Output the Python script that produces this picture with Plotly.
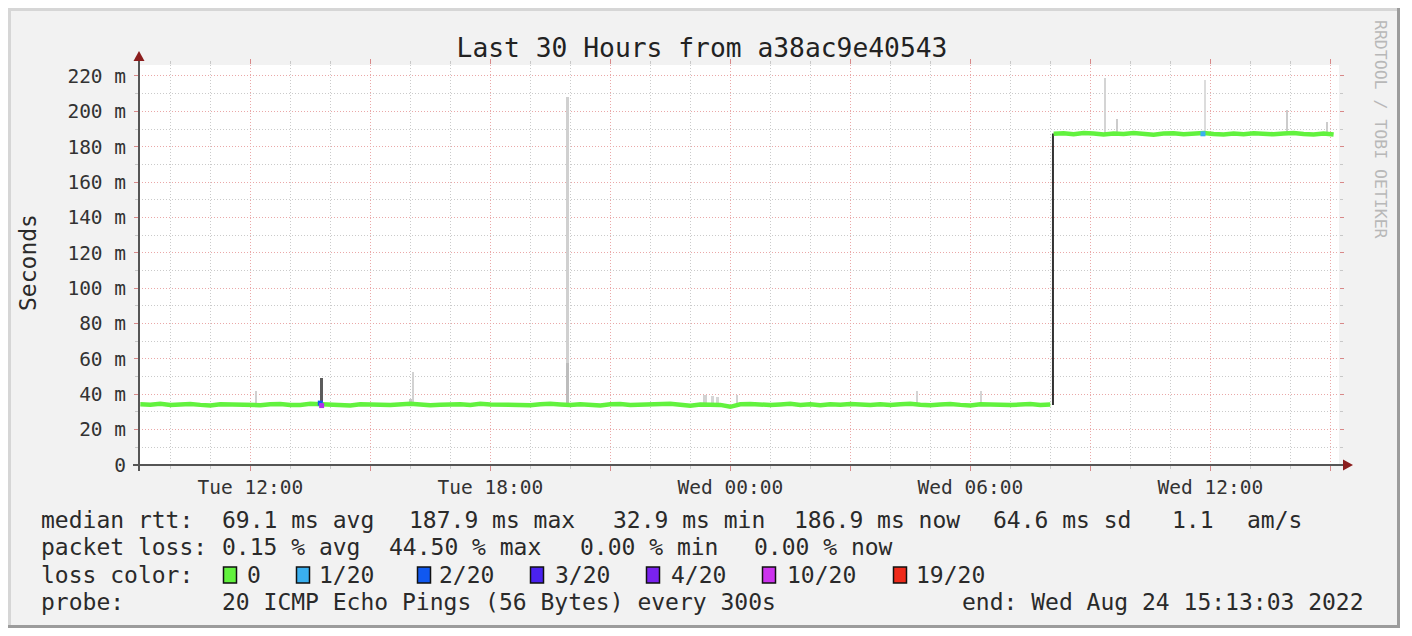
import plotly.graph_objects as go
import pandas as pd

# ---------------- data ----------------
x_start = "2022-08-23 09:13:03"
x_end = "2022-08-24 15:13:03"

# median rtt (ms), 15-minute samples, before the route change
median_a_start = "2022-08-23 09:15"
median_a = [34.3, 34.1, 34.6, 33.9, 34.2, 34.5, 34.0, 33.7, 34.4, 34.2,
            34.6, 34.1, 33.8, 34.3, 34.5, 34.0, 33.9, 34.6, 34.2, 34.4,
            34.0, 33.6, 34.3, 34.5, 34.1, 33.9, 34.4, 34.7, 34.2, 33.8,
            34.1, 34.5, 34.3, 33.9, 34.6, 34.2, 34.0, 34.4, 34.1, 33.8,
            34.3, 34.6, 34.2, 33.9, 34.4, 34.1, 33.7, 34.3, 34.5, 34.0,
            34.2, 33.9, 34.4, 34.6, 34.1, 33.5, 34.2, 34.4, 34.0, 32.9,
            34.3, 34.5, 34.1, 33.9, 34.2, 34.6, 34.0, 34.3, 33.8, 34.4,
            34.1, 34.5, 34.2, 33.9, 34.4, 34.0, 34.3, 34.6, 34.1, 33.8,
            34.2, 34.5, 34.0, 33.7, 34.3, 34.1, 34.4, 33.9, 34.2, 34.5,
            34.0, 34.2]
# median rtt (ms), after the route change
median_b_start = "2022-08-24 08:05"
median_b = [187.3, 187.6, 187.0, 187.8, 187.4, 186.9, 187.5, 187.2, 187.7, 187.1,
            186.8, 187.4, 187.6, 187.0, 187.3, 187.8, 187.2, 186.9, 187.5, 187.1,
            187.6, 187.3, 187.0, 187.4, 187.7, 187.2, 186.9, 187.5, 186.9]

# smoke (ping spread) spikes
smoke_times = ["2022-08-23 12:08", "2022-08-23 16:02", "2022-08-23 16:04",
               "2022-08-23 19:56", "2022-08-23 19:56", "2022-08-23 23:22",
               "2022-08-23 23:33", "2022-08-23 23:41", "2022-08-24 00:10",
               "2022-08-24 04:40", "2022-08-24 06:16", "2022-08-24 09:22",
               "2022-08-24 09:40", "2022-08-24 11:52", "2022-08-24 13:56",
               "2022-08-24 14:56"]
smoke_lo = [35.0, 35.0, 35.0, 35.0, 35.0, 35.0, 35.0, 35.0, 35.0,
            35.0, 35.0, 188.0, 188.0, 188.0, 188.0, 188.0]
smoke_hi = [42.0, 37.5, 52.5, 208.0, 57.5, 39.5, 39.0, 38.5, 39.5,
            42.0, 42.0, 219.0, 195.5, 218.0, 201.0, 194.0]
smoke_shade = ["#d0d0d0", "#c8c8c8", "#d2d2d2", "#d0d0d0", "#bdbdbd", "#d2d2d2",
               "#d6d6d6", "#d6d6d6", "#d2d2d2", "#d4d4d4", "#d4d4d4", "#d4d4d4",
               "#cccccc", "#dcdcdc", "#cccccc", "#cccccc"]

# dark smoke (high-loss sample)
dark_times = ["2022-08-23 13:47"]
dark_lo = [35.5]
dark_hi = [49.0]

# route change step
step_time = ["2022-08-24 08:04", "2022-08-24 08:04"]
step_vals = [34.0, 187.5]

# samples with packet loss
loss_times = ["2022-08-23 13:45", "2022-08-23 13:47", "2022-08-24 11:49"]
loss_vals = [35.0, 33.6, 187.3]
loss_cols = ["#1058f0", "#b030ee", "#3ab0f0"]

# axis ticks
ytick_vals = [0, 20, 40, 60, 80, 100, 120, 140, 160, 180, 200, 220]
ytick_text = ["0", "20 m", "40 m", "60 m", "80 m", "100 m", "120 m", "140 m",
              "160 m", "180 m", "200 m", "220 m"]
xtick_vals = ["2022-08-23 12:00", "2022-08-23 15:00", "2022-08-23 18:00",
              "2022-08-23 21:00", "2022-08-24 00:00", "2022-08-24 03:00",
              "2022-08-24 06:00", "2022-08-24 09:00", "2022-08-24 12:00",
              "2022-08-24 15:00"]
xtick_text = ["Tue 12:00", "", "Tue 18:00", "", "Wed 00:00", "",
              "Wed 06:00", "", "Wed 12:00", ""]

# legend
loss_labels = ["0", "1/20", "2/20", "3/20", "4/20", "10/20", "19/20"]
loss_colors = ["#62f23e", "#3ab0f0", "#1058f0", "#4a22f0", "#7a22f0", "#cc33ee", "#ee2a1a"]
row1 = ["median rtt:", "69.1 ms avg", "187.9 ms max", "32.9 ms min",
        "186.9 ms now", "64.6 ms sd", "1.1", "am/s"]
row2 = ["packet loss:", "0.15 % avg", "44.50 % max", "0.00 % min", "0.00 % now"]
row4 = ["probe:", "20 ICMP Echo Pings (56 Bytes) every 300s",
        "end: Wed Aug 24 15:13:03 2022"]

# ---------------- layout geometry (pixels) ----------------
W, H = 1412, 636
PL, PR, PT, PB = 139, 1339, 65, 465
PW, PH = PR - PL, PB - PT
Y_TOP = 226.2
FONT = "DejaVu Sans Mono"


def fx(x):
    return (x - PL) / PW


def fy(y):
    return (PB - y) / PH


ta = pd.date_range(median_a_start, periods=len(median_a), freq="15min")
tb = pd.date_range(median_b_start, periods=len(median_b), freq="15min")
med_x = list(ta) + [None] + list(tb)
med_y = median_a + [None] + median_b

fig = go.Figure()

fig.add_trace(go.Bar(
    x=pd.to_datetime(smoke_times), base=smoke_lo,
    y=[h - l for h, l in zip(smoke_hi, smoke_lo)],
    width=[200000, 420000, 150000, 160000, 260000, 300000, 300000, 300000, 200000,
           150000, 150000, 150000, 200000, 120000, 150000, 150000],
    marker=dict(color=smoke_shade, line=dict(width=0)),
    hoverinfo="skip"))
fig.add_trace(go.Bar(
    x=pd.to_datetime(dark_times), base=dark_lo,
    y=[h - l for h, l in zip(dark_hi, dark_lo)], width=[330000],
    marker=dict(color="#5c5c5c", line=dict(width=0)), hoverinfo="skip"))
fig.add_trace(go.Scatter(
    x=pd.to_datetime(step_time), y=step_vals, mode="lines",
    line=dict(color="#333333", width=2), hoverinfo="skip"))
fig.add_trace(go.Scatter(
    x=med_x, y=med_y, mode="lines", connectgaps=False,
    line=dict(color=loss_colors[0], width=4.5), hoverinfo="skip"))
fig.add_trace(go.Scatter(
    x=pd.to_datetime(loss_times), y=loss_vals, mode="markers",
    marker=dict(symbol="square", size=5, color=loss_cols, line=dict(width=0)),
    hoverinfo="skip"))

shapes = []
# frame
shapes.append(dict(type="rect", xref="paper", yref="paper", layer="below",
                   x0=fx(8), x1=fx(1400), y0=fy(628), y1=fy(8),
                   fillcolor="#f2f2f2", line=dict(width=0)))
for (x0, y0, x1, y1, c) in [(8, 9.5, 1400, 9.5, "#d6d6d6"), (9.5, 8, 9.5, 628, "#d6d6d6"),
                            (1398.5, 8, 1398.5, 628, "#9c9c9c"), (8, 626.5, 1400, 626.5, "#9c9c9c")]:
    shapes.append(dict(type="line", xref="paper", yref="paper", layer="below",
                       x0=fx(x0), x1=fx(x1), y0=fy(y0), y1=fy(y1),
                       line=dict(color=c, width=3)))
# plot area
shapes.append(dict(type="rect", xref="paper", yref="paper", layer="below",
                   x0=0, x1=1, y0=0, y1=1, fillcolor="#ffffff", line=dict(width=0)))
# axis lines
shapes.append(dict(type="line", xref="paper", yref="paper", x0=fx(PL), x1=fx(PL),
                   y0=fy(471), y1=fy(58), line=dict(color="#555555", width=2)))
shapes.append(dict(type="line", xref="paper", yref="paper", x0=fx(133), x1=fx(1346),
                   y0=fy(PB), y1=fy(PB), line=dict(color="#555555", width=2)))
# arrows
shapes.append(dict(type="path", xref="paper", yref="paper",
                   path=f"M {fx(139)},{fy(51)} L {fx(144.5)},{fy(61)} L {fx(133.5)},{fy(61)} Z",
                   fillcolor="#8b1d1d", line=dict(width=0)))
shapes.append(dict(type="path", xref="paper", yref="paper",
                   path=f"M {fx(1353)},{fy(465)} L {fx(1343)},{fy(459.5)} L {fx(1343)},{fy(470.5)} Z",
                   fillcolor="#8b1d1d", line=dict(width=0)))

annotations = []


def txt(s, x, y, size=23, anchor="left", color="#2a2a2a", angle=0):
    annotations.append(dict(text=s, x=fx(x), y=fy(y), xref="paper", yref="paper",
                            xanchor=anchor, yanchor="middle", showarrow=False,
                            textangle=angle,
                            font=dict(family=FONT, size=size, color=color)))


# row 1
for s, x in zip(row1, [39, 220, 407, 611, 792, 991, 1170, 1245]):
    txt(s, x, 520)
# row 2
for s, x in zip(row2, [39, 220, 387, 578, 752]):
    txt(s, x, 547)
# row 3
txt("loss color:", 39, 575)
box_x = [230, 303, 424, 537, 653, 769, 900]
lab_x = [245, 317, 437, 553, 669, 785, 914]
for lab, col, bx, lx in zip(loss_labels, loss_colors, box_x, lab_x):
    shapes.append(dict(type="rect", xref="paper", yref="paper",
                       x0=fx(bx - 6.5), x1=fx(bx + 6.5), y0=fy(583), y1=fy(567),
                       fillcolor=col, line=dict(color="#111111", width=1.5)))
    txt(lab, lx, 575)
# row 4
txt(row4[0], 39, 602)
txt(row4[1], 220, 602)
txt(row4[2], 1366, 602, anchor="right")
# y axis title
txt("Seconds", 28, 263, anchor="center", angle=-90)
# side credit
txt("RRDTOOL / TOBI OETIKER", 1381, 129, size=16.5, anchor="center", color="#b8b8b8", angle=90)

RED_GRID = "#eaa8a8"
GRAY_GRID = "#cacaca"
DOTS = "1px,2px"

fig.update_layout(
    width=W, height=H,
    margin=dict(l=PL, r=W - PR, t=PT, b=H - PB, pad=0),
    paper_bgcolor="#ffffff", plot_bgcolor="#ffffff",
    showlegend=False, barmode="overlay", bargap=0,
    title=dict(text="Last 30 Hours from a38ac9e40543", x=702 / W, xanchor="center",
               y=1 - 48 / H, yanchor="middle", xref="container", yref="container",
               font=dict(family=FONT, size=26.3, color="#222222")),
    xaxis=dict(type="date", range=[x_start, x_end], tickmode="array",
               tickvals=xtick_vals, ticktext=xtick_text,
               showgrid=True, gridcolor=RED_GRID, griddash=DOTS, gridwidth=1,
               ticks="outside", ticklen=5, tickcolor="#d88888", tickwidth=1,
               mirror="ticks", showline=False, zeroline=False,
               tickfont=dict(family=FONT, size=19.5, color="#333333"),
               minor=dict(dtick=3600000, tick0="2022-08-23 00:00", showgrid=True,
                          gridcolor=GRAY_GRID, griddash=DOTS, gridwidth=1,
                          ticks="outside", ticklen=3, tickcolor="#c8c8c8")),
    yaxis=dict(range=[0, Y_TOP], tickmode="array", tickvals=ytick_vals, ticktext=ytick_text,
               showgrid=True, gridcolor=RED_GRID, griddash=DOTS, gridwidth=1,
               ticks="outside", ticklen=4, tickcolor="#d88888", tickwidth=1,
               ticklabelstandoff=4,
               mirror="ticks", showline=False, zeroline=False,
               tickfont=dict(family=FONT, size=19.5, color="#333333"),
               minor=dict(dtick=10, tick0=0, showgrid=True, gridcolor=GRAY_GRID,
                          griddash=DOTS, gridwidth=1, ticks="outside", ticklen=3,
                          tickcolor="#c8c8c8")),
    shapes=shapes, annotations=annotations,
)

fig.write_html("out.html", config={"displayModeBar": False},
               post_script="document.body.style.margin='0px';")
